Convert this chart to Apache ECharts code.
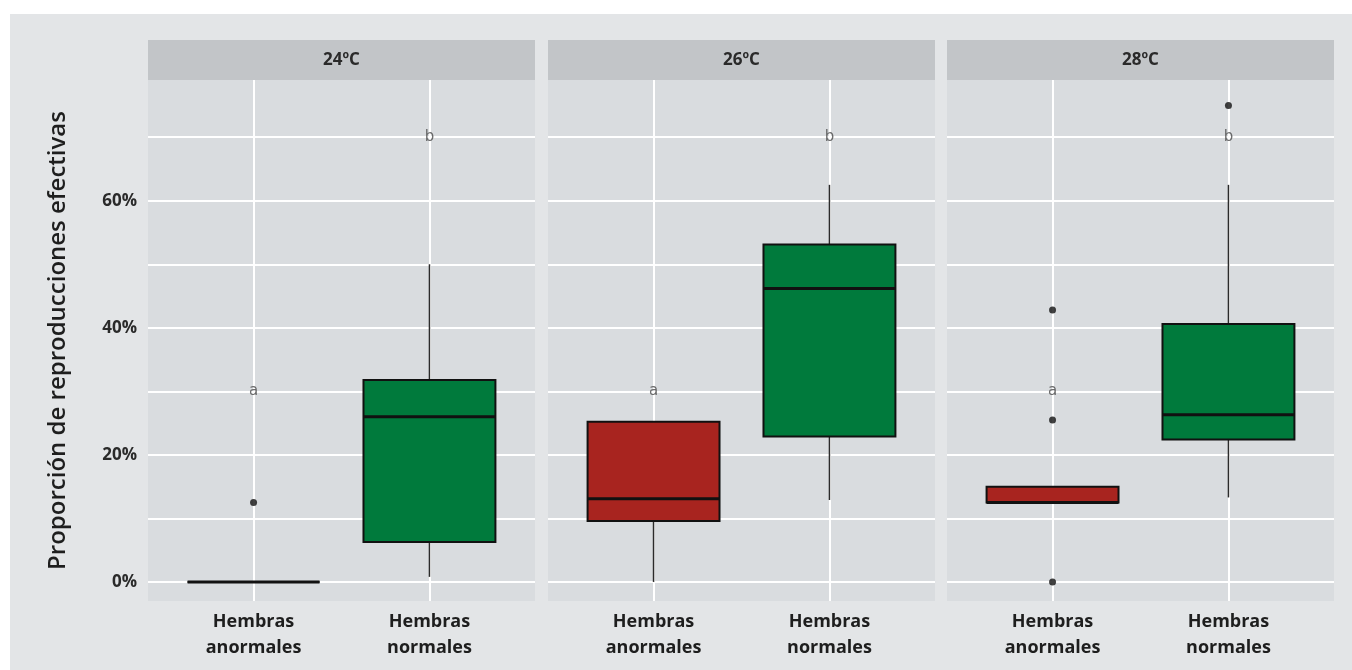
<!DOCTYPE html>
<html>
<head>
<meta charset="utf-8">
<script src="https://cdn.jsdelivr.net/npm/echarts@6/dist/echarts.min.js"></script>
<style>
  html, body { margin: 0; padding: 0; background: #ffffff; }
  #chart { width: 1352px; height: 670px; }
</style>
</head>
<body>
<div id="chart"></div>
<script>
// Facet labels and group names
const temperatures = ['24ºC', '26ºC', '28ºC'];
const groups = ['Hembras\nanormales', 'Hembras\nnormales'];

// Box statistics per group: [lower whisker, Q1, median, Q3, upper whisker] (%)
const boxes24 = [[0, 0, 0, 0, 0], [0.8, 6.3, 26.0, 31.8, 50.0]];
const boxes26 = [[0, 9.6, 13.1, 25.2, 25.2], [12.9, 22.9, 46.2, 53.1, 62.5]];
const boxes28 = [[12.5, 12.5, 12.5, 15.0, 15.0], [13.3, 22.4, 26.3, 40.6, 62.5]];

// Outliers: [group position, value %]
const outliers24 = [[1, 12.5]];
const outliers26 = [];
const outliers28 = [[1, 42.8], [1, 25.5], [1, 0], [2, 75.0]];

// Significance letters per group and their height (%)
const letters = ['a', 'b'];
const letterHeights = [30, 70];

// Y axis ticks
const yLabelValues = [0, 20, 40, 60];
const yGridValues = [0, 10, 20, 30, 40, 50, 60, 70];

const boxColors = ['#a8241f', '#007a3c'];
const panelBoxes = [boxes24, boxes26, boxes28];
const panelOutliers = [outliers24, outliers26, outliers28];

const FONT = '"Open Sans", "Noto Sans", sans-serif';
const BOX_WIDTH = 0.75;
const Y_MIN = -3, Y_MAX = 79;
const panelLeft = [148, 548, 947];
const panelWidth = 387;
const panelTop = 80;
const panelHeight = 521;

const grids = [], xAxes = [], yAxes = [], series = [], graphics = [];

graphics.push({
  type: 'rect', left: 10, top: 14, z: -10,
  shape: { width: 1342, height: 656 },
  style: { fill: '#e3e5e7' }
});

function renderBox(params, api) {
  const x = api.value(0);
  const lo = api.value(1), q1 = api.value(2), med = api.value(3), q3 = api.value(4), hi = api.value(5);
  const color = boxColors[x - 1];
  const half = BOX_WIDTH / 2;
  const top = api.coord([x - half, q3]);
  const bottom = api.coord([x + half, q1]);
  const c = api.coord([x, q3]);
  const cHi = api.coord([x, hi]);
  const cQ1 = api.coord([x, q1]);
  const cLo = api.coord([x, lo]);
  const mL = api.coord([x - half, med]);
  const mR = api.coord([x + half, med]);
  const whisker = { stroke: '#2b2b2b', lineWidth: 1.5 };
  return {
    type: 'group',
    children: [
      { type: 'line', shape: { x1: c[0], y1: c[1], x2: cHi[0], y2: cHi[1] }, style: whisker },
      { type: 'line', shape: { x1: cQ1[0], y1: cQ1[1], x2: cLo[0], y2: cLo[1] }, style: whisker },
      { type: 'rect', shape: { x: top[0], y: top[1], width: bottom[0] - top[0], height: bottom[1] - top[1] },
        style: { fill: color, stroke: '#111', lineWidth: 2 } },
      { type: 'line', shape: { x1: mL[0], y1: mL[1], x2: mR[0], y2: mR[1] },
        style: { stroke: '#111', lineWidth: 3 } }
    ]
  };
}

temperatures.forEach((t, i) => {
  grids.push({
    left: panelLeft[i], top: panelTop, width: panelWidth, height: panelHeight,
    show: true, backgroundColor: '#d9dcdf', borderWidth: 0
  });
  xAxes.push({
    type: 'value', gridIndex: i, min: 0.4, max: 2.6,
    axisLine: { show: false },
    axisTick: { show: false, customValues: [1, 2] },
    axisLabel: {
      customValues: [1, 2],
      formatter: v => groups[Math.round(v) - 1],
      color: '#1e1e1e', fontFamily: FONT, fontWeight: 'bold', fontSize: 18,
      lineHeight: 26, margin: 8
    },
    splitLine: { show: true, lineStyle: { color: '#ffffff', width: 2 } }
  });
  yAxes.push({
    type: 'value', gridIndex: i, min: Y_MIN, max: Y_MAX,
    name: i === 0 ? 'Proporción de reproducciones efectivas' : '',
    nameLocation: 'middle', nameRotate: 90, nameGap: 78,
    nameTextStyle: { color: '#1e1e1e', fontFamily: FONT, fontWeight: 600, fontSize: 24 },
    axisLine: { show: false },
    axisTick: { show: false, customValues: yGridValues },
    axisLabel: {
      show: i === 0, customValues: yLabelValues,
      formatter: v => v + '%',
      color: '#2a2a2a', fontFamily: FONT, fontWeight: 'bold', fontSize: 17, margin: 11
    },
    splitLine: { show: true, lineStyle: { color: '#ffffff', width: 2 } }
  });

  series.push({
    type: 'custom', xAxisIndex: i, yAxisIndex: i, z: 3,
    renderItem: renderBox,
    encode: { x: 0, y: [1, 2, 3, 4, 5] },
    data: panelBoxes[i].map((b, k) => [k + 1].concat(b))
  });
  series.push({
    type: 'scatter', xAxisIndex: i, yAxisIndex: i, z: 4,
    symbolSize: 7, itemStyle: { color: '#111' },
    data: panelOutliers[i]
  });
  series.push({
    type: 'scatter', xAxisIndex: i, yAxisIndex: i, z: 2,
    symbolSize: 0,
    label: {
      show: true, position: 'inside', formatter: p => p.value[2],
      color: '#4a4a4a', fontFamily: '"DejaVu Sans", sans-serif', fontSize: 15
    },
    data: letters.map((l, k) => [k + 1, letterHeights[k], l])
  });

  // facet strip
  graphics.push({
    type: 'group', left: panelLeft[i], top: 40,
    children: [
      { type: 'rect', shape: { width: panelWidth, height: 40 }, style: { fill: '#c2c5c8' } },
      { type: 'text', x: panelWidth / 2, y: 20,
        style: { text: t, textAlign: 'center', textVerticalAlign: 'middle',
                 fill: '#2a2a2a', font: 'bold 17px "Open Sans", "Noto Sans", sans-serif' } }
    ]
  });
});

const chart = echarts.init(document.getElementById('chart'), null, { renderer: 'canvas' });
chart.setOption({
  animation: false,
  backgroundColor: '#ffffff',
  grid: grids,
  xAxis: xAxes,
  yAxis: yAxes,
  series: series,
  graphic: graphics
});
</script>
</body>
</html>
